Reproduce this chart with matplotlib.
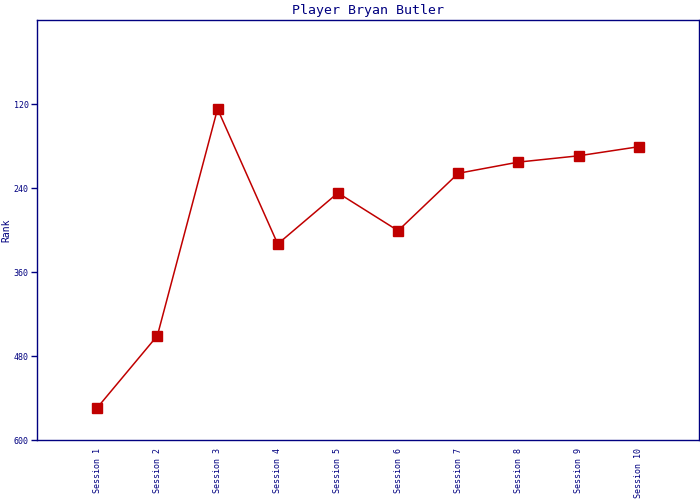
import matplotlib
matplotlib.use("Agg")
import matplotlib.pyplot as plt

sessions = ["Session %d" % i for i in range(1, 11)]
ranks = [554, 451, 127, 320, 247, 301, 219, 203, 194, 181]
yticks = [120, 240, 360, 480, 600]

navy = "#000080"
red = "#c00000"

fig = plt.figure(figsize=(7, 5), dpi=100)
ax = fig.add_axes([37 / 700, 60 / 500, 662 / 700, 420 / 500])

x = list(range(len(sessions)))
ax.plot(x, ranks, color=red, lw=1.1, marker="s", markersize=7, markerfacecolor=red, markeredgecolor=red)

ax.set_xlim(-1, 10)
ax.set_ylim(600, 0)
ax.set_yticks(yticks)
ax.set_yticklabels([str(v) for v in yticks], family="DejaVu Sans Mono", fontsize=6, color=navy)
ax.set_xticks(x)
ax.set_xticklabels(sessions, rotation=90, family="DejaVu Sans Mono", fontsize=6, color=navy)
ax.tick_params(axis="x", length=0, pad=6)
ax.tick_params(axis="y", length=4, width=1, color=navy, pad=2)

for s in ax.spines.values():
    s.set_color(navy)
    s.set_linewidth(1)

ax.set_title("Player Bryan Butler", family="DejaVu Sans Mono", fontsize=9.5, color=navy, pad=4)
ax.set_ylabel("Rank", family="DejaVu Sans Mono", fontsize=7, color=navy, labelpad=2)

fig.savefig("out.png", dpi=100)
